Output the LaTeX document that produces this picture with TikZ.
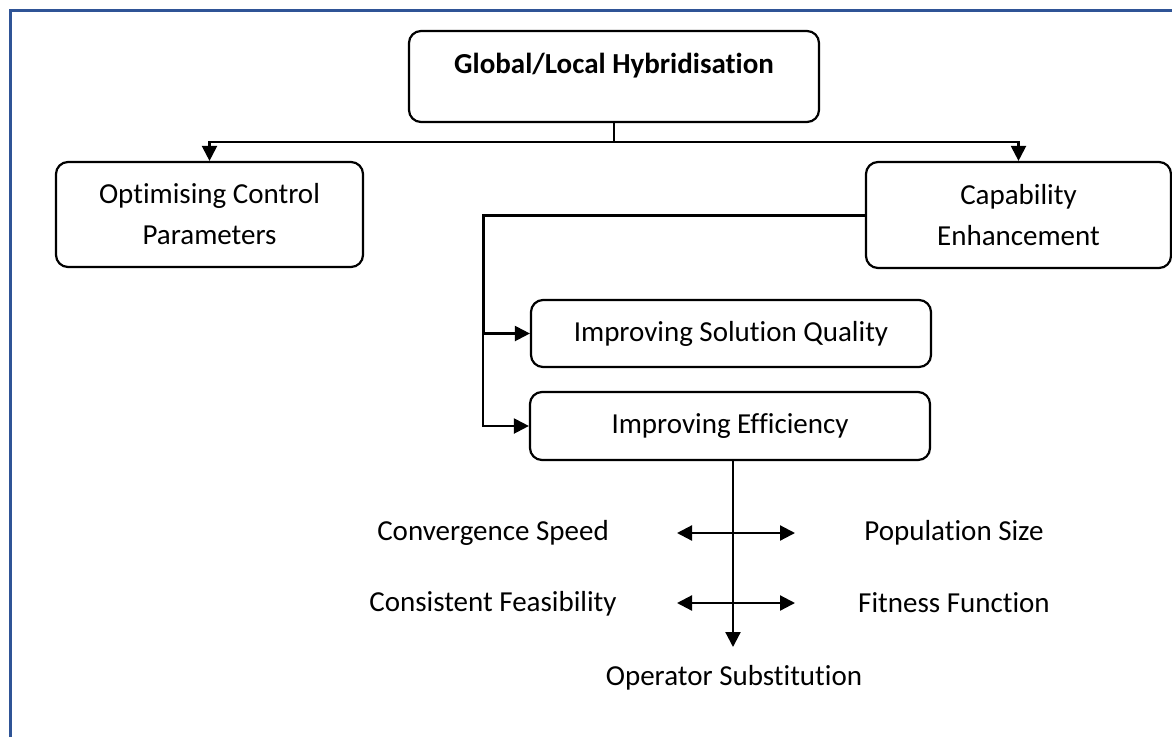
\documentclass[tikz,border=0pt]{standalone}
\usepackage{fontspec}
\setmainfont{Carlito}[Ligatures=NoCommon]
\usetikzlibrary{arrows.meta}
\definecolor{framecol}{HTML}{2F5496}
\begin{document}
\begin{tikzpicture}[x=1pt, y=-1pt,
  font=\fontsize{29}{41}\selectfont,
  box/.style={draw, line width=2.2pt, rounded corners=12pt, inner sep=0pt, align=center},
  link/.style={line width=2.2pt},
  tip/.style={-{Triangle[length=15pt,width=15pt]}},
  both/.style={{Triangle[length=15pt,width=15pt]}-{Triangle[length=15pt,width=15pt]}},
  lbl/.style={inner sep=0pt, anchor=center}]
\useasboundingbox (0,0) rectangle (1172,737);

% outer frame (top and left edges)
\draw[framecol, line width=2.8pt] (10.5,737) -- (10.5,10.5) -- (1172,10.5);

% boxes
\node[box, minimum width=410pt, minimum height=91pt] (glob) at (614,76.5) {};
\node[lbl, font=\fontsize{29}{41}\selectfont\bfseries] (globtext) at (614,66) {Global/Local Hybridisation};
\node[box, minimum width=307pt, minimum height=105pt] (opt) at (209.5,214.5) {Optimising Control\\Parameters};
\node[box, minimum width=305pt, minimum height=106pt] (cap) at (1018.5,215) {Capability\\Enhancement};
\node[box, minimum width=400pt, minimum height=67pt] (isq) at (731,333.5) {Improving Solution Quality};
\node[box, minimum width=400pt, minimum height=68pt] (ie) at (730,426) {Improving Efficiency};

% outcome labels
\node[lbl] (conv) at (493,533) {Convergence Speed};
\node[lbl] (pop) at (954,533) {Population Size};
\node[lbl] (feas) at (493,604) {Consistent Feasibility};
\node[lbl] (fit) at (954,603) {Fitness Function};
\node[lbl] (ops) at (734,678) {Operator Substitution};

% connector junctions
\coordinate (split) at (614,142);
\coordinate (bend) at (483,215);
\coordinate (down) at (733,647);
\coordinate (l1) at (677,533);
\coordinate (r1) at (795,533);
\coordinate (l2) at (677,603);
\coordinate (r2) at (795,603);

% connectors
\draw[link] (glob.south) -- (split);
\draw[link, tip] (split) -| (opt.north);
\draw[link, tip] (split) -| (cap.north);
\draw[link, line width=3pt] (cap.west) -- (bend) -- (bend |- isq.west);
\draw[link, tip] (bend) |- (isq.west);
\draw[link, tip] (bend) |- (ie.west);
\draw[link, tip] (ie.south -| down) -- (down);
\draw[link, both] (l1) -- (r1);
\draw[link, both] (l2) -- (r2);
\end{tikzpicture}
\end{document}
